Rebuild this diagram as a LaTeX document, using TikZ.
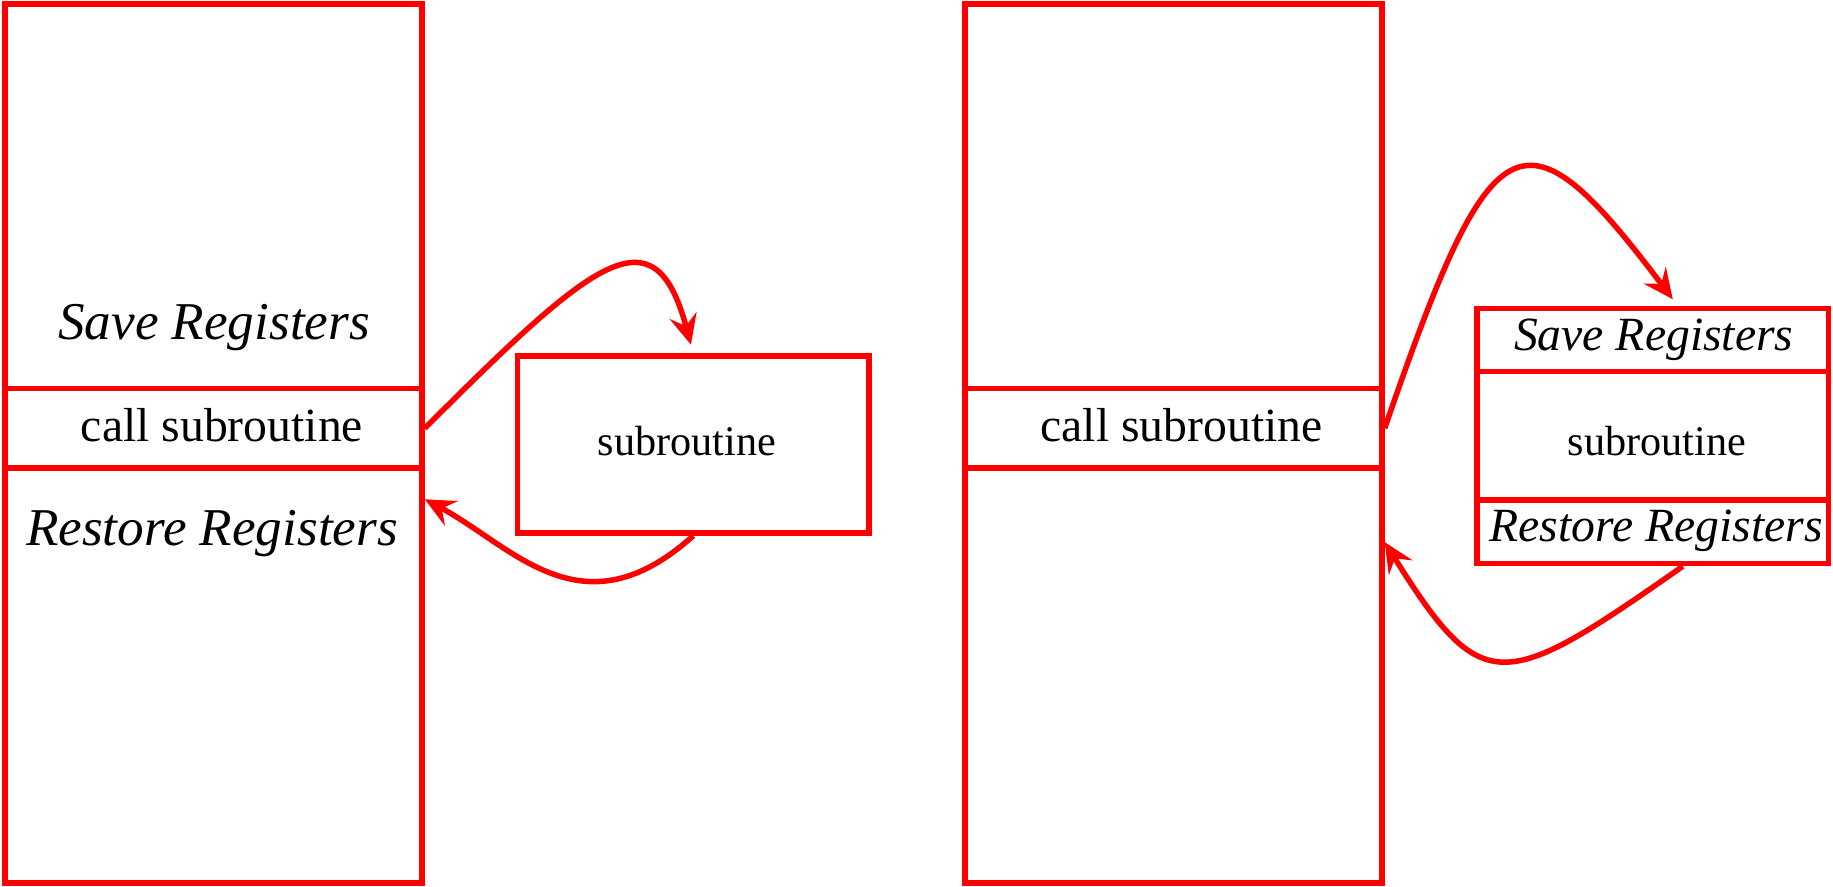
\documentclass[tikz,border=0pt]{standalone}
\usepackage{fontspec}
\setmainfont{Liberation Serif}
\usepackage{tikz}
\usetikzlibrary{arrows.meta}
\tikzstyle{frame} = [rectangle, draw = red, line width = 1.3pt, inner sep = 0pt, minimum width = 3.474cm]
\tikzstyle{routine} = [rectangle, draw = red, line width = 1.3pt, inner sep = 0pt, minimum width = 2.93cm]
\tikzstyle{bigreg} = [anchor = base, inner sep = 0pt, font = \fontsize{12.6}{15}\selectfont\itshape]
\tikzstyle{smallreg} = [anchor = base, inner sep = 0pt, font = \fontsize{11.3}{14}\selectfont\itshape]
\tikzstyle{calltext} = [anchor = base, inner sep = 0pt, font = \fontsize{11.3}{14}\selectfont]
\tikzstyle{subtext} = [anchor = base, inner sep = 0pt, font = \fontsize{10}{12}\selectfont]
\tikzstyle{jump} = [draw = red, line width = 1.3pt, -{Stealth[length = 2.5mm, width = 2.3mm, inset = 0.9mm]}]

\begin{document}
\begin{tikzpicture}[x = 0.833cm, y = 0.833cm]
			\useasboundingbox (0, 0) rectangle (18.33, -8.86);
			% Place nodes
			\node [frame, minimum height = 3.203cm] (topL) at (2.135, -1.9625) {};
			\node [frame, minimum height = 0.662cm] (callL) at (2.135, -4.2825) {};
			\node [frame, minimum height = 3.457cm] (lowL) at (2.135, -6.755) {};
			\node [routine, minimum height = 1.474cm] (sub) at (6.9325, -4.445) {};
			\node [frame, minimum height = 3.203cm] (topR) at (11.734, -1.9625) {};
			\node [frame, minimum height = 0.662cm] (callR) at (11.734, -4.2825) {};
			\node [frame, minimum height = 3.457cm] (lowR) at (11.734, -6.755) {};
			\node [routine, minimum height = 0.525cm] (saveR) at (16.5275, -3.40) {};
			\node [routine, minimum height = 1.070cm] (bodyR) at (16.5275, -4.3575) {};
			\node [routine, minimum height = 0.529cm] (restoreR) at (16.5275, -5.3175) {};

			% Texts
			\node [bigreg] (saveLtext) at (2.14, -3.39) {Save Registers};
			\node [calltext] (callLtext) at (2.22, -4.41) {call subroutine};
			\node [bigreg] (restoreLtext) at (2.12, -5.455) {Restore Registers};
			\node [subtext] (subtext) at (6.87, -4.55) {subroutine};
			\node [calltext] (callRtext) at (11.816, -4.41) {call subroutine};
			\node [smallreg] (saveRtext) at (16.537, -3.507) {Save Registers};
			\node [subtext] (bodyRtext) at (16.57, -4.55) {subroutine};
			\node [smallreg] (restoreRtext) at (16.56, -5.417) {Restore Registers};

			% Draw edges
			\path [jump, shorten >= 0.75mm] (callL.east) .. controls +(45:2.4) and +(105:1.5) .. (sub.north);
			\path [jump] (sub.south) .. controls +(222:1.5) and +(-28:1.0) .. ([yshift = -0.283cm]lowL.north east);
			\path [jump] (callR.east) .. controls +(71:3.3) and +(127:2.5) .. ([xshift = 0.167cm, yshift = 0.054cm]saveR.north);
			\path [jump] ([xshift = 0.25cm]restoreR.south) .. controls +(215:2.2) and +(-58:1.85) .. ([yshift = -0.64cm]lowR.north east);
		\end{tikzpicture}
\end{document}
